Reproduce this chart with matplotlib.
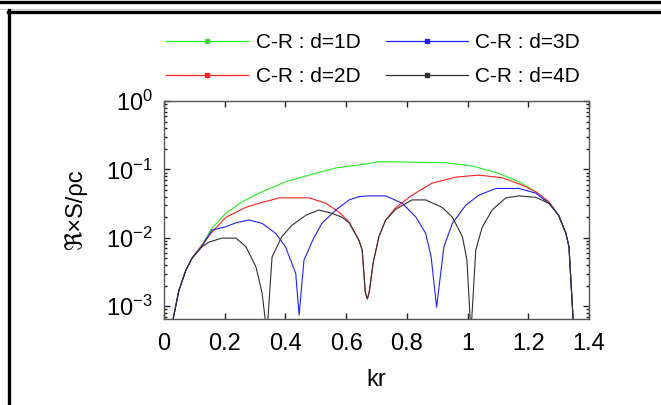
import numpy as np
import matplotlib
matplotlib.use("Agg")
import matplotlib.pyplot as plt
from matplotlib.lines import Line2D
from matplotlib.legend_handler import HandlerLine2D
from matplotlib.ticker import LogLocator, NullFormatter

plt.rcParams['font.family'] = ['Liberation Sans', 'DejaVu Sans']
plt.rcParams['mathtext.fontset'] = 'custom'
plt.rcParams['mathtext.rm'] = 'Liberation Sans'
plt.rcParams['mathtext.it'] = 'Liberation Sans:italic'
plt.rcParams['mathtext.bf'] = 'Liberation Sans:bold'

# ---- data ----
labels = ["C-R : d=1D", "C-R : d=2D", "C-R : d=3D", "C-R : d=4D"]
colors = ["#22ee22", "#ff2020", "#2020ff", "#303030"]

kr_1D = [0.025, 0.049, 0.072, 0.092, 0.125, 0.158, 0.204, 0.257, 0.313, 0.40, 0.478,
         0.566, 0.665, 0.708, 0.928, 1.016, 1.10, 1.17, 1.225, 1.268, 1.30, 1.324,
         1.334, 1.352]
s_1D = [5e-4, 1.70e-3, 3.35e-3, 5.0e-3, 7.9e-3, 0.0139, 0.0229, 0.0335, 0.0449, 0.0659,
        0.0826, 0.105, 0.120, 0.130, 0.125, 0.112, 0.0883, 0.0659, 0.047, 0.0335, 0.0213,
        0.0116, 0.0074, 3e-4]

kr_2D = [0.025, 0.049, 0.072, 0.092, 0.125, 0.158, 0.204, 0.27, 0.313, 0.38, 0.478,
         0.533, 0.576, 0.61, 0.642, 0.653, 0.663, 0.670, 0.676, 0.689, 0.708, 0.73,
         0.763, 0.817, 0.883, 0.961, 1.037, 1.114, 1.18, 1.225, 1.268, 1.30, 1.324,
         1.334, 1.352]
s_2D = [5e-4, 1.70e-3, 3.35e-3, 5.0e-3, 7.8e-3, 0.0121, 0.020, 0.0279, 0.032, 0.0384,
        0.0384, 0.032, 0.0239, 0.017, 0.00925, 0.0066, 0.0016, 0.00128, 0.0016, 0.0043,
        0.0104, 0.0182, 0.0274, 0.042, 0.063, 0.077, 0.0826, 0.0755, 0.0589, 0.047,
        0.0335, 0.0213, 0.0116, 0.0074, 3e-4]

kr_3D = [0.025, 0.049, 0.072, 0.092, 0.125, 0.158, 0.204, 0.237, 0.28, 0.323, 0.368,
         0.40, 0.434, 0.445, 0.461, 0.49, 0.52, 0.566, 0.61, 0.642, 0.675, 0.73, 0.785,
         0.83, 0.862, 0.88, 0.898, 0.922, 0.95, 0.994, 1.037, 1.093, 1.17, 1.225, 1.268,
         1.30, 1.324, 1.334, 1.352]
s_3D = [5e-4, 1.70e-3, 3.35e-3, 5.0e-3, 7.5e-3, 0.013, 0.0145, 0.0166, 0.0182, 0.0163,
        0.0116, 0.0074, 0.003, 0.00074, 0.0047, 0.00925, 0.0163, 0.0255, 0.0358, 0.040,
        0.041, 0.041, 0.032, 0.020, 0.0116, 0.00526, 0.00097, 0.0074, 0.0163, 0.030,
        0.042, 0.0526, 0.0526, 0.0449, 0.032, 0.0213, 0.0116, 0.0074, 3e-4]

kr_4D = [0.025, 0.049, 0.072, 0.092, 0.125, 0.148, 0.191, 0.237, 0.27, 0.303, 0.323,
         0.339, 0.356, 0.388, 0.421, 0.467, 0.51, 0.553, 0.586, 0.61, 0.642, 0.653,
         0.663, 0.670, 0.676, 0.689, 0.708, 0.73, 0.763, 0.817, 0.862, 0.916, 0.95,
         0.983, 0.998, 1.011, 1.027, 1.048, 1.081, 1.126, 1.17, 1.225, 1.268, 1.30,
         1.324, 1.334, 1.352]
s_4D = [5e-4, 1.70e-3, 3.35e-3, 5.0e-3, 7.4e-3, 0.00865, 0.0099, 0.0099, 0.0074,
        0.00375, 0.00156, 4e-4, 0.00526, 0.0104, 0.0152, 0.0213, 0.0255, 0.0228, 0.020,
        0.0165, 0.0092, 0.0066, 0.0016, 0.00128, 0.0016, 0.0043, 0.0104, 0.018, 0.0261,
        0.0358, 0.0358, 0.0279, 0.020, 0.0104, 0.0047, 4e-4, 0.0066, 0.0142, 0.0255,
        0.0384, 0.041, 0.039, 0.032, 0.0213, 0.0116, 0.0074, 3e-4]

x_ticks = [0, 0.2, 0.4, 0.6, 0.8, 1.0, 1.2, 1.4]
x_ticklabels = ["0", "0.2", "0.4", "0.6", "0.8", "1", "1.2", "1.4"]

series = [(kr_1D, s_1D), (kr_2D, s_2D), (kr_3D, s_3D), (kr_4D, s_4D)]

# ---- figure ----
W, H = 661, 405
fig = plt.figure(figsize=(W / 100, H / 100), dpi=100)
ax = fig.add_axes([164 / W, 1 - 319 / H, (589 - 164) / W, (319 - 101) / H])

for (k, s), c, lab in zip(series, colors, labels):
    ax.plot(k, s, color=c, lw=0.8, label=lab)

ax.set_yscale('log')
ax.set_xlim(0, 1.4)
ax.set_ylim(6.5e-4, 1)
ax.set_xticks(x_ticks)
ax.set_xticklabels(x_ticklabels)
ax.yaxis.set_major_locator(LogLocator(base=10, numticks=10))
ax.yaxis.set_minor_locator(LogLocator(base=10, subs=np.arange(2, 10), numticks=20))
ax.yaxis.set_minor_formatter(NullFormatter())

ax.tick_params(axis='both', which='major', direction='in', top=True, right=True,
               length=4, width=1, colors='#222222', labelsize=17, labelcolor='black')
ax.tick_params(axis='x', which='major', pad=10)
ax.tick_params(axis='y', which='major', pad=8)
ax.tick_params(axis='y', which='minor', direction='in', left=True, right=True,
               length=2.5, width=1, colors='#222222')
for sp in ax.spines.values():
    sp.set_color('#555555')
    sp.set_linewidth(1)

ax.set_xlabel('kr', fontsize=17, labelpad=10)
ax.set_ylabel('ℜ×S/ρc', fontsize=17, labelpad=14)


class EndMarkerHandler(HandlerLine2D):
    def get_xdata(self, legend, xdescent, ydescent, width, height, fontsize):
        xdata = [-xdescent, -xdescent + width]
        xdata_marker = [-xdescent + width]
        return xdata, xdata_marker


proxies = [Line2D([], [], color=c, lw=0.9, marker='s', markersize=2.2,
                  markerfacecolor=c, markeredgecolor=c) for c in colors]
leg = fig.legend(proxies, labels, ncol=2, loc='center',
                 bbox_to_anchor=(373 / W, 1 - 59.5 / H), frameon=False,
                 fontsize=15, handlelength=3.95, handletextpad=0.35,
                 columnspacing=1.2, labelspacing=0.7, numpoints=1,
                 handler_map={Line2D: EndMarkerHandler(numpoints=1)})

# ---- border decorations ----
fig.add_artist(Line2D([0, 1], [1 - 2 / H, 1 - 2 / H], transform=fig.transFigure,
                      color='black', lw=2.4))
fig.add_artist(Line2D([0, 1], [1 - 9 / H, 1 - 9 / H], transform=fig.transFigure,
                      color='#c8c8c8', lw=0.8))
fig.add_artist(Line2D([8 / W, 1], [1 - 11.5 / H, 1 - 11.5 / H], transform=fig.transFigure,
                      color='black', lw=2.4))
fig.add_artist(Line2D([9 / W, 9 / W], [0, 1 - 10 / H], transform=fig.transFigure,
                      color='black', lw=2.4))

fig.savefig('out.png', dpi=100)
